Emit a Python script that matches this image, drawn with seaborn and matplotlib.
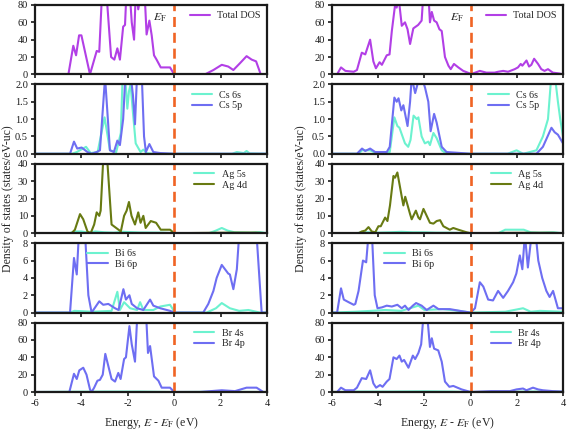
import numpy as np
import pandas as pd
import matplotlib
matplotlib.use("Agg")
import matplotlib.pyplot as plt
import seaborn as sns

# ---------------- data ----------------
# Left column
L_tot_E = [-6, -4.56, -4.35, -4.23, -4.1, -4.0, -3.63, -3.34, -3.23, -3.1, -3.0, -2.91, -2.72, -2.58, -2.45, -2.34, -2.2, -2.12, -2.05, -1.99, -1.93, -1.83, -1.73, -1.65, -1.55, -1.45, -1.3, -1.26, -1.19, -1.07, -0.97, -0.87, -0.76, -0.58, -0.18, 0.0, 1.33, 1.69, 2.05, 2.33, 2.55, 2.84, 3.12, 3.34, 3.53, 3.73, 4]
L_tot_v = [0, 0, 33, 22, 45, 45, 0, 27, 26, 100, 110, 90, 20, 17, 30, 17, 55, 57, 100, 95, 100, 60, 40, 100, 75, 90, 100, 85, 46, 62, 45, 22, 17, 8, 8, 0, 0, 5, 11, 9, 5, 13, 21, 17, 15, 0, 0]

L_cs6s_E = [-6, -4.4, -4.2, -3.8, -3.6, -3.3, -3.0, -2.77, -2.5, -2.3, -2.22, -2.12, -2.02, -1.95, -1.88, -1.78, -1.66, -1.45, -1.33, -1.2, -0.9, 0, 2.5, 2.7, 3.0, 3.12, 3.25, 4]
L_cs6s_v = [0, 0, 0.05, 0.2, 0.02, 0.05, 1.05, 0.1, 0.05, 0.6, 2.3, 2.3, 1.3, 1.8, 2.0, 1.2, 0.3, 0.05, 0.12, 0.02, 0, 0, 0, 0.05, 0.02, 0.08, 0.01, 0]
L_cs5p_E = [-6, -4.49, -4.32, -4.18, -3.99, -3.74, -3.56, -3.34, -3.2, -2.98, -2.77, -2.6, -2.45, -2.34, -2.2, -2.1, -1.9, -1.78, -1.69, -1.6, -1.5, -1.4, -1.3, -1.22, -1.07, -0.9, -0.6, 0, 4]
L_cs5p_v = [0, 0, 0.35, 0.15, 0.18, 0.05, 0.0, 0.05, 0.1, 2.2, 0.1, 0.05, 0.38, 0.25, 1.0, 2.3, 2.4, 1.7, 0.85, 2.3, 2.4, 2.3, 0.5, 0.05, 0.28, 0.05, 0.02, 0, 0]

L_ag5s_E = [-6, -4.5, -4.3, -4.0, -3.7, -3.4, -3.0, -2.6, -2.2, -1.5, -0.5, 0, 1.5, 1.8, 2.05, 2.3, 2.6, 3.3, 3.7, 4]
L_ag5s_v = [0, 0, 1.0, 1.0, 0.3, 1.0, 0.5, 0.3, 0.8, 0.4, 0.3, 0, 0, 1.5, 3.0, 1.5, 0.5, 0.3, 0.6, 0]
L_ag4d_E = [-6, -4.42, -4.28, -4.06, -3.92, -3.74, -3.6, -3.45, -3.34, -3.23, -3.17, -3.05, -2.9, -2.7, -2.4, -2.3, -2.16, -2.05, -1.95, -1.84, -1.69, -1.55, -1.45, -1.33, -1.23, -1.01, -0.78, -0.58, -0.18, 0, 2.5, 3.5, 4]
L_ag4d_v = [0, 0, 2, 11, 8, 1, 0, 5, 12, 10, 13, 45, 45, 5, 2, 1, 10, 13, 18, 10, 5, 12, 6, 10, 3, 7, 6, 2, 2, 0, 0.3, 0.3, 0]

L_bi6s_E = [-6, -4.5, -4.3, -3.5, -2.7, -2.45, -2.34, -2.16, -1.9, -1.6, -1.47, -1.33, -0.9, -0.6, -0.18, -0.06, 0, 1.4, 1.8, 2.05, 2.4, 2.8, 3.2, 3.7, 4]
L_bi6s_v = [0, 0, 0.2, 0.1, 0.2, 2.4, 0.3, 1.2, 0.5, 0.3, 1.2, 0.3, 0.3, 0.7, 0.9, 0.4, 0, 0, 0.5, 1.1, 0.5, 0.2, 0.3, 0, 0]
L_bi6p_E = [-6, -4.49, -4.32, -4.2, -4.1, -3.95, -3.85, -3.7, -3.56, -3.23, -3.06, -2.84, -2.55, -2.4, -2.19, -2.08, -1.93, -1.83, -1.6, -1.33, -1.04, -0.9, -0.6, -0.18, 0, 1.25, 1.47, 1.69, 1.83, 2.05, 2.19, 2.33, 2.4, 2.55, 2.7, 2.8, 3.1, 3.4, 3.55, 3.77, 4]
L_bi6p_v = [0, 0, 6.3, 4.4, 9.5, 10.5, 9.5, 2, 0, 1.3, 0.9, 1.0, 0.5, 0.3, 2.7, 1.5, 2.0, 1.0, 0.5, 0.3, 1.5, 0.8, 0.5, 0.2, 0, 0, 1, 2.5, 4, 5.5, 5, 4.5, 4.4, 2.7, 5, 9, 11, 11, 9, 0, 0]

L_br4s_E = [-6, -4.5, -3.0, -1.5, 0, 2.0, 4]
L_br4s_v = [0, 0.3, 0.5, 0.5, 0, 0.3, 0]
L_br4p_E = [-6, -4.52, -4.32, -4.2, -4.09, -3.92, -3.78, -3.63, -3.56, -3.45, -3.31, -3.2, -3.08, -2.97, -2.84, -2.7, -2.55, -2.41, -2.31, -2.16, -2.08, -1.93, -1.83, -1.69, -1.57, -1.45, -1.23, -1.13, -1.04, -0.87, -0.68, -0.54, -0.18, 0, 1.1, 2.05, 2.62, 3.12, 3.55, 3.84, 4]
L_br4p_v = [0, 0, 21, 15, 25, 28, 20, 3, 0, 5, 13, 14, 20, 44, 30, 15, 12, 22, 15, 38, 40, 76, 55, 35, 100, 110, 100, 45, 53, 18, 13, 5, 5, 0, 0, 2, 1, 5, 5, 0, 0]

# Right column
R_tot_E = [-6, -5.78, -5.61, -5.42, -5.06, -4.92, -4.71, -4.56, -4.35, -4.21, -4.1, -3.94, -3.84, -3.63, -3.51, -3.41, -3.27, -3.2, -3.12, -2.98, -2.84, -2.73, -2.62, -2.48, -2.27, -2.12, -2.04, -1.9, -1.83, -1.76, -1.68, -1.58, -1.47, -1.35, -1.25, -1.11, -0.96, -0.86, -0.72, -0.53, -0.32, -0.03, 0, 0.4, 0.68, 1.04, 1.19, 1.41, 1.62, 1.91, 2.05, 2.17, 2.24, 2.42, 2.53, 2.63, 2.75, 2.92, 3.06, 3.2, 3.35, 3.56, 3.84, 4]
R_tot_v = [0, 0, 8, 4, 3, 5, 25, 23, 40, 15, 7, 14, 11, 22, 23, 50, 80, 77, 90, 56, 60, 52, 35, 53, 57, 62, 95, 95, 95, 60, 72, 62, 60, 52, 50, 20, 10, 6, 12, 8, 4, 1, 0, 4, 2, 2, 3, 4, 3, 6, 8, 12, 10, 16, 9, 11, 18, 12, 6, 4, 6, 2, 1, 0]

R_cs6s_E = [-6, -4.85, -4.7, -4.35, -4.1, -3.5, -3.3, -3.17, -3.08, -2.84, -2.7, -2.6, -2.47, -2.33, -2.26, -2.12, -1.98, -1.83, -1.76, -1.61, -1.47, -1.25, -1.04, 0, 1.6, 1.99, 2.28, 2.85, 3.13, 3.35, 3.5, 3.64, 3.78, 3.88, 4]
R_cs6s_v = [0, 0, 0.1, 0.1, 0.02, 0.05, 1.05, 0.8, 0.75, 0.3, 0.2, 0.4, 1.1, 1.0, 1.05, 0.5, 0.3, 0.35, 0.25, 0.6, 0.45, 0.1, 0, 0, 0, 0.1, 0, 0.1, 0.5, 1.0, 2.3, 2.3, 1.5, 1.0, 0.5]
R_cs5p_E = [-6, -4.92, -4.7, -4.56, -4.35, -4.13, -3.63, -3.5, -3.3, -3.2, -3.12, -3.0, -2.91, -2.73, -2.62, -2.55, -2.4, -2.26, -2.04, -1.97, -1.83, -1.73, -1.58, -1.47, -1.25, -1.04, -0.6, 0, 2.85, 3.13, 3.5, 3.64, 3.78, 4]
R_cs5p_v = [0, 0, 0.15, 0.08, 0.15, 0.05, 0.05, 0.2, 1.62, 1.5, 1.6, 1.25, 1.4, 0.8, 1.5, 2.2, 1.75, 2.1, 2.05, 1.9, 1.5, 0.65, 1.15, 0.9, 0.2, 0.05, 0.03, 0, 0, 0.2, 0.75, 0.62, 0.55, 0.3]

R_ag5s_E = [-6, -5.0, -4.5, -4.0, -3.5, -3.0, -2.5, -2.0, -1.5, -1.0, 0, 1.2, 1.5, 2.3, 2.6, 3.0, 3.6, 4]
R_ag5s_v = [0, 0, 0.5, 0.3, 0.5, 0.8, 0.5, 0.5, 0.3, 0.3, 0, 0, 2.0, 2.0, 0.5, 0.3, 0.5, 0]
R_ag4d_E = [-6, -4.85, -4.71, -4.56, -4.42, -4.28, -4.13, -3.99, -3.89, -3.7, -3.6, -3.49, -3.34, -3.27, -3.17, -2.98, -2.91, -2.83, -2.62, -2.55, -2.37, -2.26, -2.19, -2.04, -1.9, -1.76, -1.61, -1.47, -1.32, -1.18, -0.9, -0.75, -0.53, -0.17, 0, 2.0, 3.5, 4]
R_ag4d_v = [0, 0, 1, 1.5, 3.5, 1, 0.5, 4, 4, 9, 7, 16, 33, 32, 35, 21, 16, 21, 11, 8, 13, 9, 8, 14, 10, 6, 5.5, 7, 7.5, 4, 2, 3, 2, 0.5, 0, 0.2, 0.2, 0]

R_bi6s_E = [-6, -5.0, -4.3, -3.7, -3.0, -2.26, -2.0, -1.2, -0.5, 0, 1.5, 2.27, 2.6, 3.0, 4]
R_bi6s_v = [0, 0.1, 0.2, 0.3, 0.2, 0.8, 0.3, 0.4, 0.2, 0, 0.1, 0.5, 0.1, 0.2, 0.1]
R_bi6p_E = [-6, -5.78, -5.61, -5.49, -5.28, -5.06, -4.99, -4.85, -4.66, -4.52, -4.42, -4.35, -4.27, -4.15, -4.03, -3.84, -3.63, -3.41, -3.17, -2.98, -2.84, -2.69, -2.5, -2.36, -2.12, -1.9, -1.61, -1.39, -0.9, -0.47, 0, 0.19, 0.4, 0.55, 0.76, 0.97, 1.19, 1.41, 1.62, 1.84, 1.98, 2.13, 2.24, 2.35, 2.48, 2.64, 2.8, 2.93, 3.1, 3.28, 3.42, 3.57, 3.78, 4]
R_bi6p_v = [0, 0, 2.8, 1.5, 1.2, 0.9, 1.0, 2.5, 6, 5.8, 9, 10, 9, 2, 0.5, 0.6, 0.8, 0.7, 0.9, 0.5, 0.8, 0.3, 0.8, 1.1, 0.8, 0.3, 0.8, 0.4, 0.4, 0.2, 0, 0.5, 3.5, 3, 1.5, 1.4, 2.5, 1.7, 2.5, 3.5, 4.5, 6.6, 5, 9, 5.2, 9, 9.5, 6, 4, 2.5, 1.8, 2.5, 0.5, 0.5]

R_br4s_E = [-6, -5.0, -3.5, -2.0, -0.8, 0, 1.5, 2.5, 3.5, 4]
R_br4s_v = [0, 0.5, 0.5, 0.8, 0.5, 0, 0.3, 0.5, 0.5, 0.2]
R_br4p_E = [-6, -5.78, -5.61, -5.42, -5.06, -4.92, -4.71, -4.52, -4.35, -4.21, -4.09, -3.92, -3.81, -3.63, -3.51, -3.34, -3.2, -3.08, -2.98, -2.88, -2.69, -2.5, -2.4, -2.26, -2.14, -2.02, -1.9, -1.76, -1.68, -1.58, -1.4, -1.25, -1.11, -0.92, -0.75, -0.39, 0, 0.9, 1.7, 1.99, 2.27, 2.42, 2.7, 2.92, 3.13, 3.56, 4]
R_br4p_v = [0, 0, 5, 2, 2, 5, 16, 15, 25, 10, 5, 8, 6, 12, 15, 40, 38, 42, 35, 37, 28, 42, 38, 45, 55, 95, 95, 52, 62, 50, 48, 35, 12, 6, 7, 3, 0, 1, 1, 3, 4, 2, 5, 3, 2, 1, 0.5]

# ---------------- style ----------------
sns.set_theme(style="ticks")
plt.rcParams['font.family'] = ['Liberation Serif', 'DejaVu Serif']
plt.rcParams['mathtext.fontset'] = 'stix'
plt.rcParams['axes.edgecolor'] = '#1a1a1a'
plt.rcParams['axes.linewidth'] = 1.6

C_TOT = '#B23FE6'
C_S = '#6CF2CF'
C_P = '#6E6EF2'
C_D = '#687A12'
C_EF = '#F06424'

W, H = 567, 436
fig = plt.figure(figsize=(W / 100, H / 100), dpi=100)

top = 1 - 5 / H
bottom = 1 - 392 / H
gsL = fig.add_gridspec(5, 1, left=35 / W, right=267 / W, top=top, bottom=bottom, hspace=0.145)
gsR = fig.add_gridspec(5, 1, left=332 / W, right=563 / W, top=top, bottom=bottom, hspace=0.145)

panels = [
    ((0, 80), [0, 20, 40, 60, 80], '{:.0f}'),
    ((0, 2), [0, 0.5, 1.0, 1.5, 2.0], '{:.1f}'),
    ((0, 40), [0, 10, 20, 30, 40], '{:.0f}'),
    ((0, 8), [0, 2, 4, 6, 8], '{:.0f}'),
    ((0, 80), [0, 20, 40, 60, 80], '{:.0f}'),
]

left_series = [
    [(L_tot_E, L_tot_v, C_TOT, 'Total DOS')],
    [(L_cs6s_E, L_cs6s_v, C_S, 'Cs 6s'), (L_cs5p_E, L_cs5p_v, C_P, 'Cs 5p')],
    [(L_ag5s_E, L_ag5s_v, C_S, 'Ag 5s'), (L_ag4d_E, L_ag4d_v, C_D, 'Ag 4d')],
    [(L_bi6s_E, L_bi6s_v, C_S, 'Bi 6s'), (L_bi6p_E, L_bi6p_v, C_P, 'Bi 6p')],
    [(L_br4s_E, L_br4s_v, C_S, 'Br 4s'), (L_br4p_E, L_br4p_v, C_P, 'Br 4p')],
]
right_series = [
    [(R_tot_E, R_tot_v, C_TOT, 'Total DOS')],
    [(R_cs6s_E, R_cs6s_v, C_S, 'Cs 6s'), (R_cs5p_E, R_cs5p_v, C_P, 'Cs 5p')],
    [(R_ag5s_E, R_ag5s_v, C_S, 'Ag 5s'), (R_ag4d_E, R_ag4d_v, C_D, 'Ag 4d')],
    [(R_bi6s_E, R_bi6s_v, C_S, 'Bi 6s'), (R_bi6p_E, R_bi6p_v, C_P, 'Bi 6p')],
    [(R_br4s_E, R_br4s_v, C_S, 'Br 4s'), (R_br4p_E, R_br4p_v, C_P, 'Br 4p')],
]
leg_x = [0.64, 0.65, 0.66, 0.2, 0.66]

for gs, series in ((gsL, left_series), (gsR, right_series)):
    for i in range(5):
        ax = fig.add_subplot(gs[i, 0])
        ylim, yticks, yfmt = panels[i]
        for E, v, col, lab in series[i]:
            df = pd.DataFrame({'E': E, 'v': v})
            sns.lineplot(data=df, x='E', y='v', ax=ax, color=col, lw=1.5,
                         label=lab, sort=False, estimator=None)
        ax.axvline(0, color=C_EF, lw=1.9, dashes=(3.8, 2.2))
        ax.set_xlim(-6, 4)
        ax.set_ylim(*ylim)
        ax.set_yticks(yticks)
        ax.set_yticklabels([yfmt.format(t) for t in yticks])
        ax.set_xticks([-6, -4, -2, 0, 2, 4])
        ax.set_xlabel('')
        ax.set_ylabel('')
        ax.tick_params(axis='both', direction='out', length=3, width=1.2,
                       labelsize=7.5, colors='#1a1a1a', pad=2)
        if i < 4:
            ax.set_xticklabels([])
        else:
            ax.set_xticklabels(['-6', '-4', '-2', '0', '2', '4'])
        for s in ax.spines.values():
            s.set_visible(True)
        ax.legend(loc='upper left', bbox_to_anchor=(leg_x[i], 1.0),
                  frameon=False, fontsize=7.3, handlelength=2.0,
                  handletextpad=0.7, labelspacing=0.15, borderaxespad=0.2)
        if i == 0:
            ax.text(-0.3, 65, r'$E_\mathrm{F}$', ha='right', va='center', fontsize=8.5)

for xc in (8 / W, 301 / W):
    fig.text(xc, 0.545, 'Density of states (states/eV-uc)', rotation=90,
             ha='center', va='center', fontsize=8.5)
for xc in (151 / W, 447 / W):
    fig.text(xc, 1 - 423 / H, r'Energy, $E$ - $E_\mathrm{F}$ (eV)',
             ha='center', va='center', fontsize=8.5)

fig.savefig('out.png', dpi=100)
